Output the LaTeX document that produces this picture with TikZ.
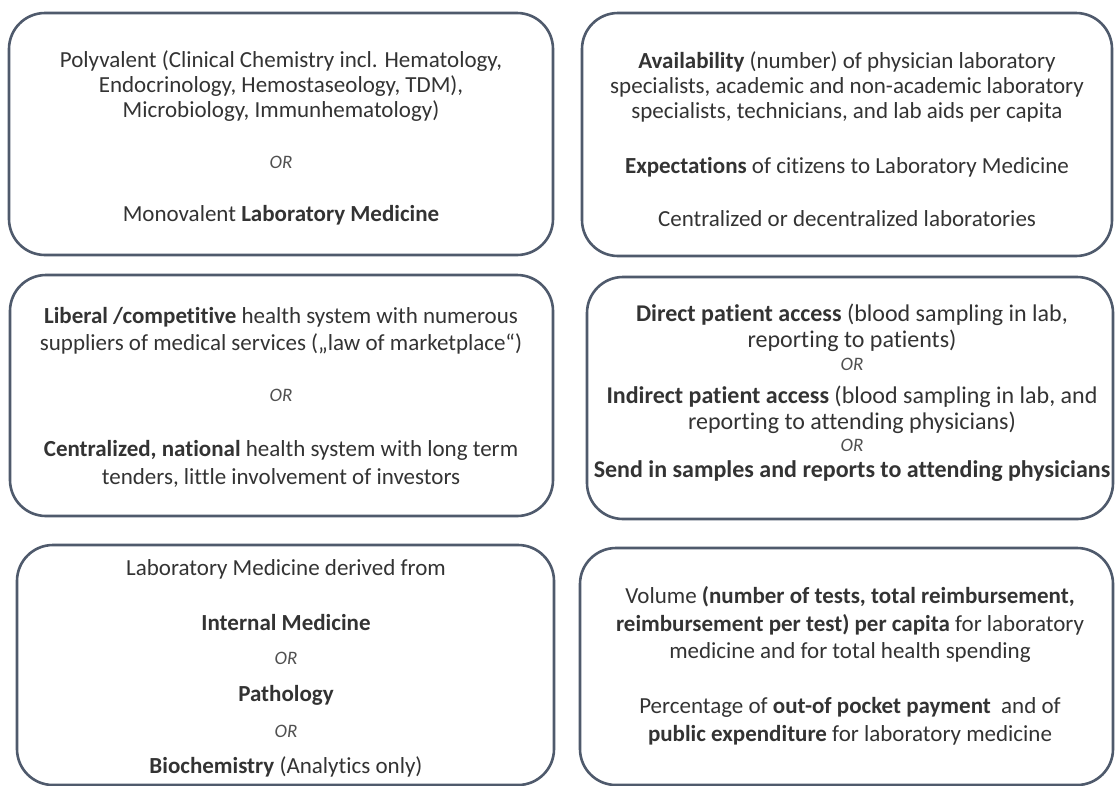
\documentclass[tikz,border=0pt]{standalone}
\usepackage{fontspec}
\setmainfont{Carlito}[Ligatures={NoCommon}]
\definecolor{boxline}{HTML}{4F5A6C}
\definecolor{txtgrey}{HTML}{333333}
\definecolor{orgrey}{HTML}{505050}
\begin{document}
\begin{tikzpicture}[x=1pt,y=-1pt,
  panel/.style={draw=boxline, line width=2.6pt, rounded corners=36pt, fill=white, inner sep=0pt},
  txt/.style={anchor=base, inner sep=0pt, text=txtgrey, font=\fontsize{23}{27}\selectfont},
  bigtxt/.style={txt, font=\fontsize{24}{28}\selectfont},
  ortxt/.style={anchor=base, inner sep=0pt, text=orgrey, font=\fontsize{19}{22}\selectfont\itshape},
]
\useasboundingbox (0,0) rectangle (1115,785);
\fill[white] (0,0) rectangle (1115,785);

% the six panels
\node[panel, minimum width=544pt, minimum height=242pt] (p1) at (281,134) {};
\node[panel, minimum width=530pt, minimum height=243pt] (p2) at (847,134.5) {};
\node[panel, minimum width=543pt, minimum height=241pt] (p3) at (281.5,395.5) {};
\node[panel, minimum width=526pt, minimum height=242pt] (p4) at (850,398) {};
\node[panel, minimum width=537pt, minimum height=240pt] (p5) at (285.5,665) {};
\node[panel, minimum width=533pt, minimum height=237pt] (p6) at (846.5,666.5) {};

% panel 1: discipline scope
\node[txt] (a1) at (281,67) {Polyvalent (Clinical Chemistry incl. Hematology,};
\node[txt] (a2) at (281,92) {Endocrinology, Hemostaseology, TDM),};
\node[txt] (a3) at (281,117) {Microbiology, Immunhematology)};
\node[ortxt] (a4) at (281,168) {OR};
\node[txt] (a5) at (281,221) {Monovalent \textbf{Laboratory Medicine}};

% panel 2: staffing and expectations
\node[txt] (b1) at (847,68) {\textbf{Availability} (number) of physician laboratory};
\node[txt] (b2) at (847,93) {specialists, academic and non-academic laboratory};
\node[txt] (b3) at (847,118) {specialists, technicians, and lab aids per capita};
\node[txt] (b4) at (847,173) {\textbf{Expectations} of citizens to Laboratory Medicine};
\node[txt] (b5) at (847,226) {Centralized or decentralized laboratories};

% panel 3: health system type
\node[txt] (c1) at (281,323) {\textbf{Liberal /competitive} health system with numerous};
\node[txt] (c2) at (281,350) {suppliers of medical services („law of marketplace“)};
\node[ortxt] (c3) at (281,401) {OR};
\node[txt] (c4) at (281,456) {\textbf{Centralized, national} health system with long term};
\node[txt] (c5) at (281,484) {tenders, little involvement of investors};

% panel 4: patient access
\node[bigtxt] (d1) at (852,321) {\textbf{Direct patient access} (blood sampling in lab,};
\node[bigtxt] (d2) at (852,347) {reporting to patients)};
\node[ortxt] (d3) at (852,370) {OR};
\node[bigtxt] (d4) at (852,403) {\textbf{Indirect patient access} (blood sampling in lab, and};
\node[bigtxt] (d5) at (852,429) {reporting to attending physicians)};
\node[ortxt] (d6) at (852,451) {OR};
\node[bigtxt] (d7) at (852,477) {\textbf{Send in samples and reports to attending physicians}};

% panel 5: origin of the discipline
\node[txt] (e1) at (286,575) {Laboratory Medicine derived from};
\node[txt] (e2) at (286,630) {\textbf{Internal Medicine}};
\node[ortxt] (e3) at (286,664) {OR};
\node[txt] (e4) at (286,701) {\textbf{Pathology}};
\node[ortxt] (e5) at (286,737) {OR};
\node[txt] (e6) at (286,773) {\textbf{Biochemistry} (Analytics only)};

% panel 6: volume and spending
\node[txt] (f1) at (850,603) {Volume \textbf{(number of tests, total reimbursement,}};
\node[txt] (f2) at (850,631) {\textbf{reimbursement per test) per capita} for laboratory};
\node[txt] (f3) at (850,658) {medicine and for total health spending};
\node[txt] (f4) at (850,713) {Percentage of \textbf{out-of pocket payment}\ \ and of};
\node[txt] (f5) at (850,741) {\textbf{public expenditure} for laboratory medicine};
\end{tikzpicture}
\end{document}
